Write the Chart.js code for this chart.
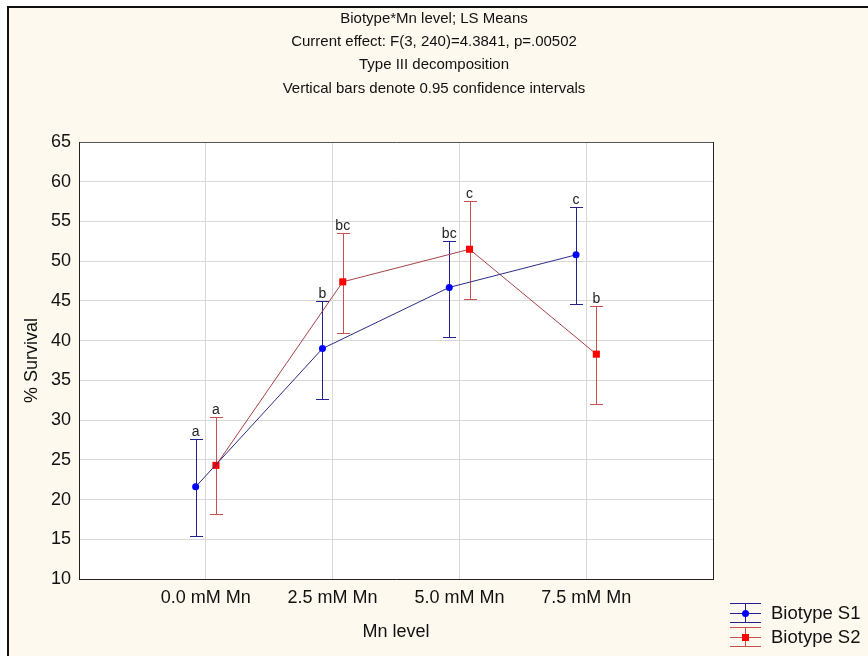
<!DOCTYPE html>
<html>
<head>
<meta charset="utf-8">
<script src="https://cdn.jsdelivr.net/npm/chart.js@4.4.0/dist/chart.umd.min.js"></script>
<style>
  html, body { margin: 0; padding: 0; background: #fff; }
  canvas { display: block; }
</style>
</head>
<body>
<canvas id="chart" width="868" height="656"></canvas>
<script>
const categories = ['0.0 mM Mn', '2.5 mM Mn', '5.0 mM Mn', '7.5 mM Mn']
const titleLines = [
  'Biotype*Mn level; LS Means',
  'Current effect: F(3, 240)=4.3841, p=.00502',
  'Type III decomposition',
  'Vertical bars denote 0.95 confidence intervals'
]
const seriesNames = ['Biotype S1', 'Biotype S2']

// LS means and 0.95 confidence limits
const s1Mean = [21.6, 39.0, 46.7, 50.8]
const s1Low = [15.4, 32.7, 40.4, 44.6]
const s1High = [27.6, 45.0, 52.6, 56.8]
const s1Letters = ['a', 'b', 'bc', 'c']

const s2Mean = [24.3, 47.4, 51.5, 38.3]
const s2Low = [18.2, 41.0, 45.2, 32.0]
const s2High = [30.4, 53.5, 57.6, 44.3]
const s2Letters = ['a', 'bc', 'c', 'b']

const yTicks = { min: 10, max: 65, step: 5 }

const OFFSET = 0.08
const FONT = "'Liberation Sans', Arial, sans-serif"
const CREAM = '#fef9ef'

const lineColors = ['#2c2c88', '#a8444a']
const barColors = ['#22228e', '#c8504f']
const markColors = ['#0000ff', '#ff0000']

const errLow = [s1Low, s2Low]
const errHigh = [s1High, s2High]
const letters = [s1Letters, s2Letters]

Chart.defaults.font.family = FONT
Chart.defaults.color = '#111'

function toPoints(values, shift) {
    return values.map((v, i) => ({ x: i + 1 + shift, y: v }))
}

const framePlugin = {
    id: 'frame',
    beforeDraw(chart) {
        const { ctx, chartArea } = chart
        ctx.save()
        ctx.fillStyle = '#fff'
        ctx.fillRect(0, 0, chart.width, chart.height)
        ctx.fillStyle = CREAM
        ctx.fillRect(8, 7, chart.width, chart.height)
        ctx.strokeStyle = '#111'
        ctx.lineWidth = 2
        ctx.strokeRect(8, 7, chart.width + 10, chart.height + 10)
        ctx.fillStyle = '#fff'
        ctx.fillRect(chartArea.left, chartArea.top, chartArea.right - chartArea.left, chartArea.bottom - chartArea.top)
        ctx.restore()
    }
}

const errorBarPlugin = {
    id: 'errorBars',
    beforeDatasetsDraw(chart) {
        const { ctx } = chart
        const yScale = chart.scales.y
        ctx.save()
        ctx.lineWidth = 1
        chart.data.datasets.forEach((ds, i) => {
            const meta = chart.getDatasetMeta(i)
            ctx.strokeStyle = barColors[i]
            meta.data.forEach((pt, j) => {
                const x = Math.round(pt.x) + 0.5
                const top = Math.round(yScale.getPixelForValue(errHigh[i][j])) + 0.5
                const bottom = Math.round(yScale.getPixelForValue(errLow[i][j])) + 0.5
                ctx.beginPath()
                ctx.moveTo(x, top)
                ctx.lineTo(x, bottom)
                ctx.moveTo(x - 6.5, top)
                ctx.lineTo(x + 6.5, top)
                ctx.moveTo(x - 6.5, bottom)
                ctx.lineTo(x + 6.5, bottom)
                ctx.stroke()
            })
        })
        ctx.restore()
    },
    afterDatasetsDraw(chart) {
        const { ctx } = chart
        const yScale = chart.scales.y
        ctx.save()
        ctx.font = '14px ' + FONT
        ctx.fillStyle = '#222'
        ctx.textAlign = 'center'
        ctx.textBaseline = 'alphabetic'
        chart.data.datasets.forEach((ds, i) => {
            const meta = chart.getDatasetMeta(i)
            meta.data.forEach((pt, j) => {
                const top = yScale.getPixelForValue(errHigh[i][j])
                ctx.fillText(letters[i][j], pt.x, top - 3)
            })
        })
        ctx.restore()
    }
}

const legendPlugin = {
    id: 'barLegend',
    afterDraw(chart) {
        const { ctx } = chart
        const rows = [613, 637]
        ctx.save()
        rows.forEach((y, i) => {
            const cx = 745.5
            ctx.strokeStyle = barColors[i]
            ctx.lineWidth = 1
            ctx.beginPath()
            ctx.moveTo(730, y - 9.5); ctx.lineTo(761, y - 9.5)
            ctx.moveTo(730, y + 0.5); ctx.lineTo(761, y + 0.5)
            ctx.moveTo(730, y + 9.5); ctx.lineTo(761, y + 9.5)
            ctx.moveTo(cx, y - 9.5); ctx.lineTo(cx, y + 9.5)
            ctx.stroke()
            ctx.fillStyle = markColors[i]
            if (i === 0) {
                ctx.beginPath()
                ctx.arc(cx, y + 0.5, 3.5, 0, Math.PI * 2)
                ctx.fill()
            } else {
                ctx.fillRect(cx - 3.5, y - 3, 7, 7)
            }
            ctx.fillStyle = '#111'
            ctx.font = '18.5px ' + FONT
            ctx.textAlign = 'left'
            ctx.textBaseline = 'middle'
            ctx.fillText(seriesNames[i], 771, y + 1)
        })
        ctx.restore()
    }
}

new Chart(document.getElementById('chart'), {
    type: 'scatter',
    data: {
        datasets: [
            {
                label: seriesNames[0],
                data: toPoints(s1Mean, -OFFSET),
                showLine: true,
                borderColor: lineColors[0],
                borderWidth: 1,
                pointStyle: 'circle',
                pointRadius: 3.5,
                pointBackgroundColor: markColors[0],
                pointBorderColor: markColors[0],
                pointBorderWidth: 0
            },
            {
                label: seriesNames[1],
                data: toPoints(s2Mean, OFFSET),
                showLine: true,
                borderColor: lineColors[1],
                borderWidth: 1,
                pointStyle: 'rect',
                pointRadius: 5,
                pointBackgroundColor: markColors[1],
                pointBorderColor: markColors[1],
                pointBorderWidth: 0
            }
        ]
    },
    options: {
        responsive: false,
        animation: false,
        events: [],
        layout: { padding: 0 },
        plugins: {
            legend: { display: false },
            tooltip: { enabled: false },
            title: {
                display: true,
                text: titleLines,
                color: '#111',
                font: { size: 15, weight: 'normal', lineHeight: '23.3px' },
                padding: { top: 7, bottom: 41.8 }
            }
        },
        scales: {
            x: {
                type: 'linear',
                min: 0,
                max: 5,
                ticks: {
                    stepSize: 1,
                    autoSkip: false,
                    maxRotation: 0,
                    padding: 8,
                    color: '#111',
                    font: { size: 18 },
                    callback: (v) => categories[v - 1] || ''
                },
                grid: {
                    drawTicks: false,
                    color: (c) => c.tick.value === 5 ? '#222' : (c.tick.value === 0 ? 'rgba(0,0,0,0)' : '#d8d8d8')
                },
                border: { color: '#222', width: 1 },
                title: {
                    display: true,
                    text: 'Mn level',
                    color: '#111',
                    font: { size: 18 },
                    padding: { top: 0, bottom: 13 }
                },
                afterFit: (s) => { s.height = 77 }
            },
            y: {
                min: yTicks.min,
                max: yTicks.max,
                ticks: {
                    stepSize: yTicks.step,
                    padding: 8,
                    color: '#111',
                    font: { size: 18 }
                },
                grid: {
                    drawTicks: false,
                    color: (c) => c.tick.value === yTicks.max ? '#555' : '#d8d8d8'
                },
                border: { color: '#222', width: 1 },
                title: {
                    display: true,
                    text: '% Survival',
                    color: '#111',
                    font: { size: 18 },
                    padding: { top: 21, bottom: 0 }
                },
                afterFit: (s) => { s.width = 79 }
            },
            legendSpace: {
                position: 'right',
                display: true,
                grid: { display: false },
                ticks: { display: false },
                border: { display: false },
                afterFit: (s) => { s.width = 155 }
            }
        }
    },
    plugins: [framePlugin, errorBarPlugin, legendPlugin]
})
</script>
</body>
</html>
